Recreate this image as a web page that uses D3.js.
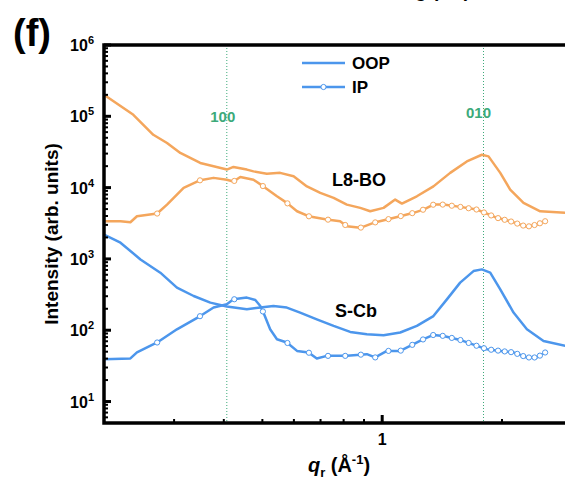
<!DOCTYPE html>
<html>
<head>
<meta charset="utf-8">
<script src="https://cdn.jsdelivr.net/npm/d3@7/dist/d3.min.js"></script>
<style>
  html, body { margin: 0; padding: 0; background: #fff; }
  svg { display: block; font-family: "Liberation Sans", Arial, sans-serif; font-weight: bold; }
</style>
</head>
<body>
<div id="chart"></div>
<script>
// ---- data (q in 1/Å, intensity in arb. units) ----
const l8OopQ = [0.2, 0.237, 0.266, 0.288, 0.311, 0.349, 0.377, 0.407, 0.423, 0.457, 0.475, 0.513, 0.554, 0.599, 0.647, 0.699, 0.755, 0.815, 0.881, 0.933, 1.008, 1.078, 1.121, 1.222, 1.345, 1.482, 1.632, 1.780, 1.850, 1.980, 2.097, 2.265, 2.495, 2.883, 3.0];
const l8OopI = [2.0e5, 1.05e5, 5.51e4, 4.22e4, 3.06e4, 2.22e4, 1.99e4, 1.79e4, 1.95e4, 1.79e4, 1.69e4, 1.57e4, 1.61e4, 1.44e4, 1.04e4, 8.43e3, 7.18e3, 5.78e3, 5.20e3, 4.66e3, 5.20e3, 6.80e3, 5.97e3, 7.56e3, 1.04e4, 1.61e4, 2.33e4, 2.89e4, 2.74e4, 1.61e4, 9.38e3, 6.11e3, 4.66e3, 4.43e3, 4.43e3];

const l8IpQ = [0.2, 0.22, 0.233, 0.242, 0.272, 0.288, 0.317, 0.349, 0.377, 0.407, 0.423, 0.440, 0.475, 0.503, 0.544, 0.576, 0.611, 0.653, 0.726, 0.784, 0.815, 0.881, 0.951, 1.028, 1.110, 1.199, 1.270, 1.345, 1.426, 1.570, 1.730, 1.797, 1.942, 2.097, 2.310, 2.447, 2.568];
const l8IpI = [3.38e3, 3.38e3, 3.27e3, 3.97e3, 4.33e3, 5.78e3, 9.90e3, 1.27e4, 1.37e4, 1.29e4, 1.22e4, 1.41e4, 1.29e4, 1.04e4, 7.56e3, 6.11e3, 4.66e3, 3.97e3, 3.57e3, 3.38e3, 2.88e3, 2.73e3, 3.21e3, 3.57e3, 3.97e3, 4.43e3, 4.92e3, 5.78e3, 5.78e3, 5.37e3, 4.92e3, 4.51e3, 3.77e3, 3.38e3, 2.82e3, 3.04e3, 3.38e3];

const scOopQ = [0.2, 0.22, 0.247, 0.277, 0.305, 0.336, 0.370, 0.407, 0.457, 0.494, 0.533, 0.576, 0.622, 0.685, 0.755, 0.831, 0.915, 1.008, 1.110, 1.222, 1.345, 1.454, 1.570, 1.696, 1.780, 1.868, 1.980, 2.138, 2.310, 2.543, 2.883, 3.0];
const scOopI = [2.20e3, 1.69e3, 984, 641, 396, 302, 244, 215, 197, 208, 219, 208, 177, 142, 115, 94.7, 87.9, 85.1, 92.9, 115, 158, 271, 465, 675, 713, 641, 375, 177, 103, 70.8, 60.3, 58];

const scIpQ = [0.2, 0.233, 0.242, 0.272, 0.305, 0.349, 0.377, 0.407, 0.423, 0.457, 0.480, 0.494, 0.503, 0.523, 0.544, 0.576, 0.611, 0.653, 0.685, 0.726, 0.815, 0.915, 0.960, 1.028, 1.110, 1.199, 1.270, 1.345, 1.426, 1.570, 1.730, 1.833, 1.980, 2.138, 2.310, 2.447, 2.568];
const scIpI = [39.3, 40.2, 48.8, 67.3, 103, 158, 208, 231, 271, 287, 265, 219, 177, 103, 74.8, 67.3, 51.3, 48.8, 40.2, 43.7, 43.7, 46.2, 41.5, 51.3, 51.3, 63.7, 74.8, 86.0, 83.2, 73.1, 60.3, 54.2, 51.3, 48.8, 41.5, 41.5, 48.8];

// marker positions along the IP curves (q)
const markerStartQ = 0.272, markerStepQ = 0.0765, markerEndQ = 2.57;

const peakQ = [0.407, 1.797];
const peakLabels = ["100", "010"];
const yTickExps = [1, 2, 3, 4, 5, 6];
const xMajorTicks = [1];
const xMinorTicks = [0.3, 0.4, 0.5, 0.6, 0.7, 0.8, 0.9, 2, 3];
const sampleNames = ["L8-BO", "S-Cb"];
const legendNames = ["OOP", "IP"];

// ---- layout ----
const W = 565, H = 481;
const pL = 104, pT = 45, pB = 423;
const orange = "#F4A65C", blue = "#4C96EC", green = "#3DAA7A";

const x = d3.scaleLog().domain([0.2, 3]).range([pL, pL + 398 * Math.log10(15)]);
const y = d3.scaleLog().domain([5, 1e6]).range([pB, pT]);

const svg = d3.select("#chart").append("svg").attr("width", W).attr("height", H);

svg.append("defs").append("clipPath").attr("id", "clip")
  .append("rect").attr("x", pL).attr("y", pT).attr("width", W - pL + 20).attr("height", pB - pT);

const zip = (qs, is) => qs.map((q, i) => [q, is[i]]);
const line = d3.line().x(d => x(d[0])).y(d => y(d[1]));

const plot = svg.append("g").attr("clip-path", "url(#clip)");

// peak guide lines
plot.selectAll(".guide").data(peakQ).join("line")
  .attr("x1", d => x(d)).attr("x2", d => x(d))
  .attr("y1", pT).attr("y2", pB)
  .attr("stroke", green).attr("stroke-width", 1).attr("stroke-dasharray", "1,2");

const series = [
  {data: zip(l8OopQ, l8OopI), color: orange, markers: false},
  {data: zip(l8IpQ, l8IpI), color: orange, markers: true},
  {data: zip(scOopQ, scOopI), color: blue, markers: false},
  {data: zip(scIpQ, scIpI), color: blue, markers: true}
];

function interpAt(data, q) {
  const bis = d3.bisector(d => d[0]).left;
  let i = bis(data, q);
  if (i <= 0) return data[0][1];
  if (i >= data.length) return data[data.length - 1][1];
  const a = data[i - 1], b = data[i];
  const t = (Math.log(q) - Math.log(a[0])) / (Math.log(b[0]) - Math.log(a[0]));
  return Math.exp(Math.log(a[1]) + t * (Math.log(b[1]) - Math.log(a[1])));
}

const markerQs = d3.range(markerStartQ, markerEndQ, markerStepQ);

series.forEach(s => {
  plot.append("path").datum(s.data).attr("d", line)
    .attr("fill", "none").attr("stroke", s.color).attr("stroke-width", 2.5)
    .attr("stroke-linejoin", "round");
});
series.forEach(s => {
  if (!s.markers) return;
  plot.selectAll(null).data(markerQs.map(q => [q, interpAt(s.data, q)])).join("circle")
    .attr("cx", d => x(d[0])).attr("cy", d => y(d[1])).attr("r", 2.6)
    .attr("fill", "#fff").attr("stroke", s.color).attr("stroke-width", 1);
});

// peak labels
svg.selectAll(".plabel").data(peakQ).join("text")
  .attr("x", (d, i) => x(d) + (i === 0 ? -4 : -5))
  .attr("y", (d, i) => i === 0 ? 122 : 118)
  .attr("text-anchor", "middle").attr("fill", green).attr("font-size", 15)
  .text((d, i) => peakLabels[i]);

// frame
svg.append("rect").attr("x", pL).attr("y", pT).attr("width", W - pL + 20).attr("height", pB - pT)
  .attr("fill", "none").attr("stroke", "#000").attr("stroke-width", 3.5);

// y ticks
const yMinor = [];
for (let e = 0; e <= 5; e++) for (let m = 2; m <= 9; m++) {
  const v = m * Math.pow(10, e);
  if (v >= 5 && v < 1e6) yMinor.push(v);
}
svg.selectAll(".ymin").data(yMinor).join("line")
  .attr("x1", pL).attr("x2", pL + 4).attr("y1", d => y(d)).attr("y2", d => y(d))
  .attr("stroke", "#000").attr("stroke-width", 2);
svg.selectAll(".ymaj").data(yTickExps.map(e => Math.pow(10, e))).join("line")
  .attr("x1", pL).attr("x2", pL + 7).attr("y1", d => y(d)).attr("y2", d => y(d))
  .attr("stroke", "#000").attr("stroke-width", 3);
const yl = svg.selectAll(".ylab").data(yTickExps).join("text")
  .attr("x", 94).attr("y", e => y(Math.pow(10, e)) + 6)
  .attr("text-anchor", "end").attr("font-size", 16);
yl.append("tspan").text("10");
yl.append("tspan").attr("dy", -7).attr("font-size", 11).text(e => e);

// x ticks
svg.selectAll(".xmin").data(xMinorTicks).join("line")
  .attr("x1", d => x(d)).attr("x2", d => x(d)).attr("y1", pB).attr("y2", pB - 4)
  .attr("stroke", "#000").attr("stroke-width", 2);
svg.selectAll(".xmaj").data(xMajorTicks).join("line")
  .attr("x1", d => x(d)).attr("x2", d => x(d)).attr("y1", pB).attr("y2", pB - 8)
  .attr("stroke", "#000").attr("stroke-width", 3);
svg.selectAll(".xlab").data(xMajorTicks).join("text")
  .attr("x", d => x(d)).attr("y", 445).attr("text-anchor", "middle").attr("font-size", 16)
  .text(d => d);

// axis titles
const xt = svg.append("text").attr("x", 339).attr("y", 472).attr("text-anchor", "middle").attr("font-size", 20);
xt.append("tspan").attr("font-style", "italic").text("q");
xt.append("tspan").attr("dy", 5).attr("font-size", 13).text("r");
xt.append("tspan").attr("dy", -5).text(" (Å");
xt.append("tspan").attr("dy", -8).attr("font-size", 13).text("-1");
xt.append("tspan").attr("dy", 8).text(")");

svg.append("text").attr("transform", "translate(58,234) rotate(-90)")
  .attr("text-anchor", "middle").attr("font-size", 19).text("Intensity (arb. units)");

// panel label
svg.append("text").attr("x", 13).attr("y", 46).attr("font-size", 38).text("(f)");
// partially visible text cut at top edge (as in the reference)
svg.append("text").attr("x", 470).attr("y", -3).attr("text-anchor", "end").attr("font-size", 19).text("Annealing (RT)");

// sample labels
svg.append("text").attr("x", 359).attr("y", 186).attr("text-anchor", "middle").attr("font-size", 18).text(sampleNames[0]);
svg.append("text").attr("x", 356).attr("y", 317).attr("text-anchor", "middle").attr("font-size", 18).text(sampleNames[1]);

// legend
const lg = svg.append("g");
legendNames.forEach((name, i) => {
  const ly = 63 + i * 24;
  lg.append("line").attr("x1", 302).attr("x2", 345).attr("y1", ly).attr("y2", ly)
    .attr("stroke", blue).attr("stroke-width", 2.5);
  if (i === 1) lg.append("circle").attr("cx", 323.5).attr("cy", ly).attr("r", 2.6)
    .attr("fill", "#fff").attr("stroke", blue).attr("stroke-width", 1);
  lg.append("text").attr("x", 352).attr("y", ly + 6).attr("font-size", 17).text(name);
});
</script>
</body>
</html>
